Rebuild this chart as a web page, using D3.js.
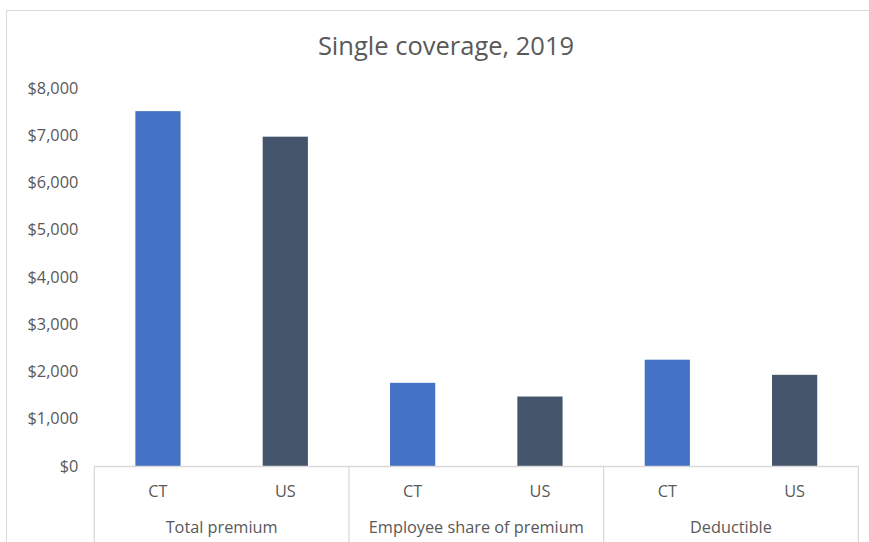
<!DOCTYPE html>
<html><head><meta charset="utf-8">
<script src="https://cdn.jsdelivr.net/npm/d3@7"></script>
<style>body{margin:0;background:#fff}svg{display:block}text{font-family:"Open Sans",sans-serif}</style>
</head><body><svg id="c" width="869" height="542"></svg>
<script>
const title = "Single coverage, 2019";
const groups = ["Total premium", "Employee share of premium", "Deductible"];
const seriesNames = ["CT", "US"];
const ctValues = [7510, 1760, 2250];
const usValues = [6970, 1470, 1930];
const yTicks = [0, 1000, 2000, 3000, 4000, 5000, 6000, 7000, 8000];
const colors = ["#4472C4", "#44546A"];

(function () {
const svg = d3.select("#c");
const W = 869, H = 542;
const pl = 94.3, pr = 858.3, pt = 88, pb = 466;

// outer frame
svg.append("rect").attr("x", 6.5).attr("y", 10.5).attr("width", W).attr("height", H)
  .attr("fill", "none").attr("stroke", "#d9d9d9").attr("stroke-width", 1);

svg.append("text").attr("x", 446).attr("y", 55).attr("text-anchor", "middle")
  .attr("font-size", 25.5).attr("fill", "#595959").text(title);

const y = d3.scaleLinear().domain([0, 8000]).range([pb, pt]);
const x0 = d3.scaleBand().domain(groups).range([pl, pr]).padding(0);
const x1 = d3.scaleBand().domain(seriesNames).range([0, x0.bandwidth()]).paddingInner(0.645).paddingOuter(0.3225);

const yAxis = d3.axisLeft(y).tickValues(yTicks).tickSize(0).tickPadding(16)
  .tickFormat(d => "$" + d3.format(",")(d));
const ya = svg.append("g").attr("transform", `translate(${pl},0)`).call(yAxis);
ya.select(".domain").remove();
ya.selectAll("text").attr("font-size", 16.3).attr("fill", "#595959").attr("font-family", '"Open Sans",sans-serif');

const data = groups.map((g, i) => ({group: g, values: [ctValues[i], usValues[i]]}));
const gg = svg.append("g").selectAll("g").data(data).join("g")
  .attr("transform", d => `translate(${x0(d.group)},0)`);
gg.selectAll("rect").data(d => d.values.map((v, j) => ({s: seriesNames[j], v, j})))
  .join("rect")
  .attr("x", d => x1(d.s)).attr("width", x1.bandwidth())
  .attr("y", d => y(d.v)).attr("height", d => y(0) - y(d.v))
  .attr("fill", d => colors[d.j]);

// category axis lines
svg.append("line").attr("x1", pl).attr("x2", pr).attr("y1", pb + 0.5).attr("y2", pb + 0.5)
  .attr("stroke", "#d9d9d9").attr("stroke-width", 1.3);
const seps = groups.map(g => x0(g)).concat([pr]);
svg.selectAll(".sep").data(seps).join("line")
  .attr("x1", d => d).attr("x2", d => d).attr("y1", pb).attr("y2", H)
  .attr("stroke", "#d9d9d9").attr("stroke-width", 1.3);

gg.selectAll(".sl").data(d => seriesNames).join("text")
  .attr("x", s => x1(s) + x1.bandwidth() / 2).attr("y", 497)
  .attr("text-anchor", "middle").attr("font-size", 16.3).attr("fill", "#595959").text(s => s);
gg.append("text").attr("x", x0.bandwidth() / 2).attr("y", 533)
  .attr("text-anchor", "middle").attr("font-size", 16.3).attr("fill", "#595959").text(d => d.group);
})();
</script></body></html>
